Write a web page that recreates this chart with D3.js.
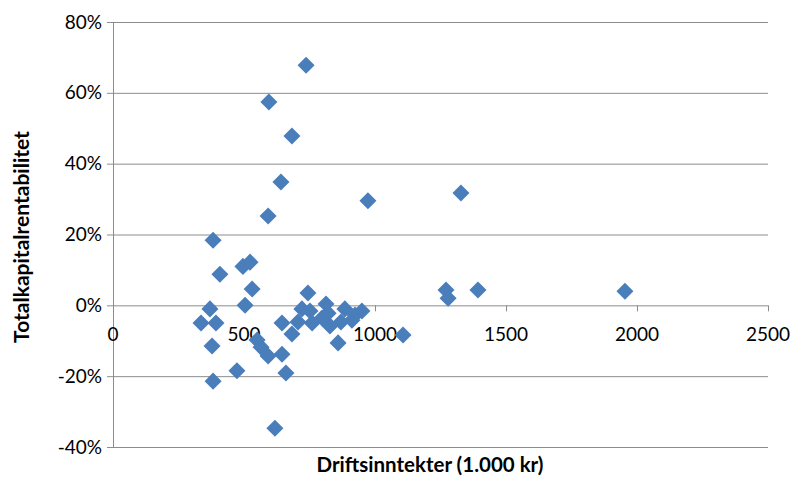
<!DOCTYPE html>
<meta charset="utf-8">
<style>
  body { margin: 0; background: #fff; }
  text { font-family: Lato, "Open Sans", "Noto Sans", sans-serif; fill: #000; }
</style>
<svg width="790" height="478"></svg>
<script src="https://d3js.org/d3.v7.min.js"></script>
<script>

// Driftsinntekter (1.000 kr)
var revenue = [737, 595, 683, 641, 592, 973, 1328, 382, 408, 523, 496, 531, 504, 370, 336,
  393, 378, 382, 473, 618, 660, 645, 645, 550, 565, 592, 683, 744, 721, 706, 760, 752,
  813, 798, 828, 870, 859, 885, 924, 950, 912, 821, 1107, 1271, 1279, 1393, 1954];
// Totalkapitalrentabilitet (%)
var returnOnAssets = [67.8, 57.4, 47.8, 34.8, 25.2, 29.5, 31.7, 18.4, 8.8, 12.2, 11.0, 4.6,
  0.0, -1.0, -5.0, -5.0, -11.5, -21.4, -18.5, -34.7, -19.1, -13.8, -5.0, -9.8, -11.8, -14.3,
  -8.1, 3.5, -1.0, -4.7, -5.0, -1.6, 0.4, -3.6, -5.8, -4.7, -10.6, -1.0, -2.7, -1.6, -4.2,
  -2.2, -8.4, 4.3, 2.0, 4.3, 4.0];

var xTicks = [0, 500, 1000, 1500, 2000, 2500];
var yTicks = [-40, -20, 0, 20, 40, 60, 80];

var svg = d3.select("svg");

var x = d3.scaleLinear().domain([0, 2500]).range([113, 768]);
var y = d3.scaleLinear().domain([-40, 80]).range([447, 22]);

var grey = "#8c8c8c";

// horizontal gridlines
svg.append("g").selectAll("line")
  .data(yTicks)
  .enter().append("line")
  .attr("x1", 107).attr("x2", 768)
  .attr("y1", function(d) { return y(d) + 0.5; })
  .attr("y2", function(d) { return y(d) + 0.5; })
  .attr("stroke", grey).attr("stroke-width", 1);

// y axis line
svg.append("line")
  .attr("x1", 113.5).attr("x2", 113.5)
  .attr("y1", y(80)).attr("y2", y(-40))
  .attr("stroke", grey);

// y tick labels
svg.append("g").selectAll("text")
  .data(yTicks)
  .enter().append("text")
  .attr("x", 102)
  .attr("y", function(d) { return y(d); })
  .attr("dy", "0.35em")
  .attr("text-anchor", "end")
  .style("font-size", "19px")
  .text(function(d) { return d + "%"; });

// x tick marks on the 0% line
svg.append("g").selectAll("line")
  .data(xTicks)
  .enter().append("line")
  .attr("x1", function(d) { return x(d) + 0.5; })
  .attr("x2", function(d) { return x(d) + 0.5; })
  .attr("y1", y(0)).attr("y2", y(0) + 6)
  .attr("stroke", grey);

// x tick labels
svg.append("g").selectAll("text")
  .data(xTicks)
  .enter().append("text")
  .attr("x", function(d) { return x(d); })
  .attr("y", y(0) + 36)
  .attr("text-anchor", "middle")
  .style("font-size", "19px")
  .text(function(d) { return d; });

// points
var diamond = d3.symbol().type(d3.symbolSquare).size(145);
svg.append("g").selectAll("path")
  .data(d3.range(revenue.length))
  .enter().append("path")
  .attr("d", diamond)
  .attr("transform", function(i) {
    return "translate(" + x(revenue[i]) + "," + y(returnOnAssets[i]) + ") rotate(45)";
  })
  .attr("fill", "#4a7ebb");

// axis titles
svg.append("text")
  .attr("x", 430).attr("y", 472)
  .attr("text-anchor", "middle")
  .style("font-size", "20.5px").style("font-weight", "bold")
  .text("Driftsinntekter (1.000 kr)");

svg.append("text")
  .attr("transform", "translate(29,237) rotate(-90)")
  .attr("text-anchor", "middle")
  .style("font-size", "21px").style("font-weight", "bold")
  .text("Totalkapitalrentabilitet");

</script>
